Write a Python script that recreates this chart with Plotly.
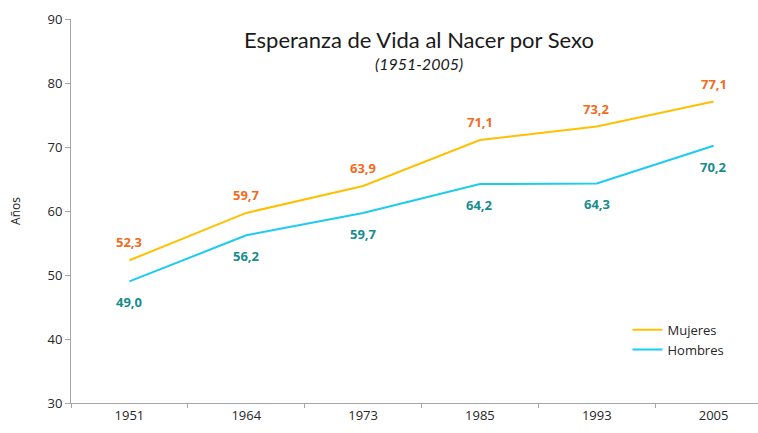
import plotly.graph_objects as go

years = ["1951", "1964", "1973", "1985", "1993", "2005"]
mujeres = [52.3, 59.7, 63.9, 71.1, 73.2, 77.1]
hombres = [49.0, 56.2, 59.7, 64.2, 64.3, 70.2]
y_ticks = [30, 40, 50, 60, 70, 80, 90]

MUJ_LINE = "#FFC000"
HOM_LINE = "#1CCBF2"
MUJ_LABEL = "#F26B1D"
HOM_LABEL = "#168C8C"
AXIS = "#A6A6A6"
TEXT = "#262626"

fig = go.Figure()
fig.add_trace(go.Scatter(x=years, y=mujeres, mode="lines", name="Mujeres",
                         line=dict(color=MUJ_LINE, width=2)))
fig.add_trace(go.Scatter(x=years, y=hombres, mode="lines", name="Hombres",
                         line=dict(color=HOM_LINE, width=2)))

def fmt(v):
    return f"{v:.1f}".replace(".", ",")

annotations = []
# category positions on the x axis are the indices of the year list
for i, v in enumerate(mujeres):
    annotations.append(dict(x=i, y=v, xref="x", yref="y", text=f"<b>{fmt(v)}</b>",
                            showarrow=False, yshift=18,
                            font=dict(color=MUJ_LABEL, size=13, family="Open Sans")))
for i, v in enumerate(hombres):
    annotations.append(dict(x=i, y=v, xref="x", yref="y", text=f"<b>{fmt(v)}</b>",
                            showarrow=False, yshift=-21,
                            font=dict(color=HOM_LABEL, size=13, family="Open Sans")))

annotations.append(dict(xref="paper", yref="paper", x=0.507, y=1.0, yanchor="middle",
                        xanchor="center", showarrow=False,
                        text="Esperanza de Vida al Nacer por Sexo", yshift=-20,
                        font=dict(size=22, color="#1a1a1a", family="Lato")))
annotations.append(dict(xref="paper", yref="paper", x=0.507, y=1.0, yanchor="middle",
                        xanchor="center", showarrow=False,
                        text="<i>(1951-2005)</i>", yshift=-44,
                        font=dict(size=16, color="#1a1a1a", family="Lato")))

fig.update_layout(
    width=758, height=433,
    margin=dict(l=71, r=0, t=19, b=30),
    paper_bgcolor="white", plot_bgcolor="white",
    showlegend=True,
    legend=dict(x=0.81, y=0.23, xanchor="left", yanchor="top",
                font=dict(size=13, color=TEXT, family="Open Sans"),
                bgcolor="rgba(0,0,0,0)", tracegroupgap=10, itemwidth=30),
    annotations=annotations,
    xaxis=dict(type="category", range=[-0.5, 5.38], showgrid=False,
               showline=True, linecolor=AXIS, linewidth=1,
               ticks="outside", tickson="boundaries", ticklen=4, tickcolor=AXIS,
               tickfont=dict(size=13, color=TEXT, family="Open Sans")),
    yaxis=dict(range=[30, 90], tickvals=y_ticks, showgrid=False,
               showline=True, linecolor=AXIS, linewidth=1,
               ticks="outside", ticklen=5, tickcolor=AXIS,
               tickfont=dict(size=13, color=TEXT, family="Open Sans"),
               title=dict(text="Años", font=dict(size=12, color=TEXT, family="Open Sans"),
                          standoff=24)),
)

fig.write_html("out.html")
